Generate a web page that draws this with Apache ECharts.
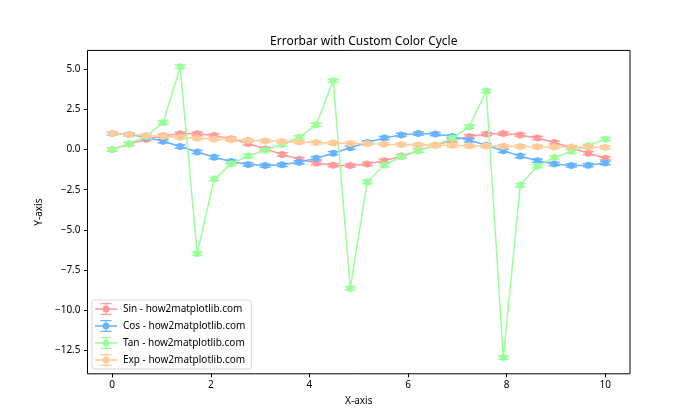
<!DOCTYPE html>
<html>
<head>
<meta charset="utf-8">
<script src="https://cdn.jsdelivr.net/npm/echarts@6/dist/echarts.min.js"></script>
<style>html,body{margin:0;padding:0;background:#fff}#c{width:700px;height:420px}</style>
</head>
<body>
<div id="c"></div>
<script>
const xs = [0, 0.3448, 0.6897, 1.0345, 1.3793, 1.7241, 2.0690, 2.4138, 2.7586, 3.1034,
  3.4483, 3.7931, 4.1379, 4.4828, 4.8276, 5.1724, 5.5172, 5.8621, 6.2069, 6.5517,
  6.8966, 7.2414, 7.5862, 7.9310, 8.2759, 8.6207, 8.9655, 9.3103, 9.6552, 10];
const sinVals = [0, 0.338, 0.636, 0.860, 0.982, 0.988, 0.878, 0.665, 0.374, 0.038,
  -0.302, -0.606, -0.839, -0.974, -0.993, -0.896, -0.693, -0.409, -0.076, 0.265,
  0.576, 0.818, 0.964, 0.997, 0.912, 0.720, 0.443, 0.114, -0.228, -0.544];
const cosVals = [1, 0.941, 0.771, 0.511, 0.190, -0.153, -0.478, -0.747, -0.928, -0.999,
  -0.953, -0.795, -0.543, -0.228, 0.115, 0.444, 0.721, 0.913, 0.997, 0.964,
  0.818, 0.575, 0.265, -0.077, -0.409, -0.694, -0.896, -0.993, -0.974, -0.839];
const tanVals = [0, 0.359, 0.825, 1.682, 5.159, -6.470, -1.839, -0.891, -0.403, -0.038,
  0.317, 0.763, 1.545, 4.278, -8.642, -2.018, -0.962, -0.448, -0.076, 0.275,
  0.704, 1.423, 3.645, -12.952, -2.228, -1.038, -0.495, -0.115, 0.235, 0.648];
const expVals = [1, 0.933, 0.871, 0.813, 0.759, 0.708, 0.661, 0.617, 0.576, 0.538,
  0.502, 0.468, 0.437, 0.408, 0.381, 0.355, 0.332, 0.310, 0.289, 0.270,
  0.252, 0.235, 0.219, 0.205, 0.191, 0.178, 0.166, 0.155, 0.145, 0.135];
const yErr = 0.1;
const seriesNames = ['Sin - how2matplotlib.com', 'Cos - how2matplotlib.com', 'Tan - how2matplotlib.com', 'Exp - how2matplotlib.com'];
const colors = ['#FF9999', '#66B3FF', '#99FF99', '#FFCC99'];
const xTicks = [0, 2, 4, 6, 8, 10];
const yTicks = [-12.5, -10, -7.5, -5, -2.5, 0, 2.5, 5];

const FONT = 'Noto Sans';
const allVals = [sinVals, cosVals, tanVals, expVals];
const legendIcon = 'path://M0,5.25h22v1.5h-22z M10.5,0.6h1v10.8h-1z M5.5,0h11v1.2h-11z M5.5,10.8h11v1.2h-11z M7.5,6a3.5,3.5 0 1,1 7,0a3.5,3.5 0 1,1 -7,0z';

const series = [];
allVals.forEach((vals, k) => {
  const data = xs.map((x, i) => [x, vals[i], yErr]);
  series.push({
    type: 'custom', name: seriesNames[k] + ' err', silent: true,
    encode: { x: 0, y: 1 },
    data: data,
    z: 2 + k * 2,
    renderItem: function (params, api) {
      const x = api.value(0), y = api.value(1), e = api.value(2);
      const t = api.coord([x, y + e]), b = api.coord([x, y - e]);
      const cw = 5.5;
      const st = { stroke: colors[k], lineWidth: 1.5 };
      return { type: 'group', children: [
        { type: 'line', shape: { x1: t[0], y1: t[1], x2: b[0], y2: b[1] }, style: st },
        { type: 'line', shape: { x1: t[0] - cw, y1: t[1], x2: t[0] + cw, y2: t[1] }, style: st },
        { type: 'line', shape: { x1: b[0] - cw, y1: b[1], x2: b[0] + cw, y2: b[1] }, style: st }
      ]};
    }
  });
  series.push({
    type: 'line', name: seriesNames[k], data: data.map(d => [d[0], d[1]]),
    z: 3 + k * 2,
    symbol: 'circle', symbolSize: 7, showSymbol: true,
    lineStyle: { color: colors[k], width: 1.5 },
    itemStyle: { color: colors[k], borderWidth: 0 },
    emphasis: { disabled: true }
  });
});

const fmt = v => {
  const s = Math.abs(v).toFixed(1);
  return (v < 0 ? '\u2212' : '') + s;
};

const chart = echarts.init(document.getElementById('c'), null, { renderer: 'canvas' });
chart.setOption({
  animation: false,
  backgroundColor: '#fff',
  textStyle: { fontFamily: FONT },
  color: colors,
  title: {
    text: 'Errorbar with Custom Color Cycle',
    left: 358.75, top: 31, textAlign: 'center',
    textStyle: { fontFamily: FONT, fontSize: 12, fontWeight: 'normal', color: '#000' }
  },
  grid: { left: 87.5, right: 70, top: 50.4, bottom: 46.2, show: true, borderColor: '#000', borderWidth: 1, backgroundColor: 'transparent' },
  legend: {
    orient: 'vertical', left: 92, bottom: 51,
    backgroundColor: '#fff', borderColor: '#d6d6d6', borderWidth: 1, borderRadius: 3,
    padding: [3, 6, 3, 3], itemGap: 5, itemWidth: 22, itemHeight: 12,
    textStyle: { fontFamily: FONT, fontSize: 10, color: '#000', padding: [0, 0, 0, 1] },
    data: seriesNames.map((n, k) => ({ name: n, icon: legendIcon, itemStyle: { color: colors[k] } }))
  },
  xAxis: {
    type: 'value', min: -0.5, max: 10.5,
    name: 'X-axis', nameLocation: 'middle', nameGap: 22,
    nameTextStyle: { fontFamily: FONT, fontSize: 10, color: '#000' },
    axisLine: { show: false, onZero: false },
    axisTick: { show: true, length: 3.5, lineStyle: { color: '#000' }, customValues: xTicks },
    axisLabel: { color: '#000', fontSize: 10, fontFamily: FONT, margin: 6, customValues: xTicks, formatter: v => String(v) },
    splitLine: { show: false }
  },
  yAxis: {
    type: 'value', min: -13.968, max: 6.175,
    name: 'Y-axis', nameLocation: 'middle', nameGap: 38, nameRotate: 90,
    nameTextStyle: { fontFamily: FONT, fontSize: 10, color: '#000' },
    axisLine: { show: false, onZero: false },
    axisTick: { show: true, length: 3.5, lineStyle: { color: '#000' }, customValues: yTicks },
    axisLabel: { color: '#000', fontSize: 10, fontFamily: FONT, margin: 7, customValues: yTicks, formatter: fmt },
    splitLine: { show: false }
  },
  series: series
});
</script>
</body>
</html>
